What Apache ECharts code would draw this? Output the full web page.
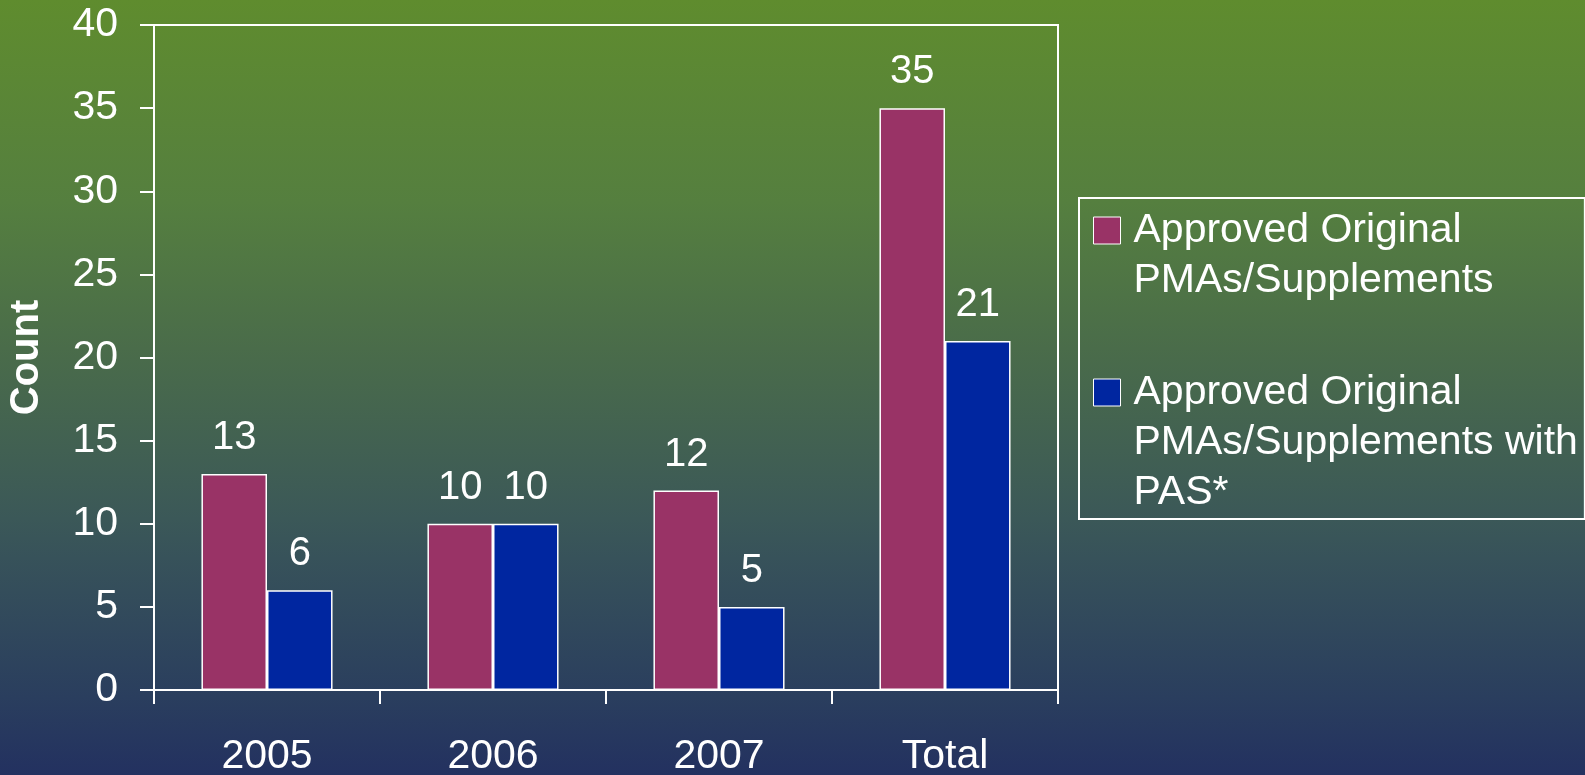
<!DOCTYPE html>
<html>
<head>
    <meta charset="utf-8" />
    <title></title>
    <script src="https://cdn.jsdelivr.net/npm/echarts@6/dist/echarts.min.js"></script>
    <style>
        * { margin: 0; padding: 0; box-sizing: border-box; }
        html, body { width: 1585px; height: 775px; overflow: hidden; }
        #chart { width: 1585px; height: 775px; }
    </style>
</head>
<body>
    <div id="chart"></div>

    <script>
        // data
        const categories = ['2005', '2006', '2007', 'Total'];
        const approved = [13, 10, 12, 35];
        const approvedWithPas = [6, 10, 5, 21];
        const seriesNames = ['Approved Original PMAs/Supplements', 'Approved Original PMAs/Supplements with PAS*'];
        const legendLines = {
            'Approved Original PMAs/Supplements': 'Approved Original\nPMAs/Supplements\n\u00a0',
            'Approved Original PMAs/Supplements with PAS*': 'Approved Original\nPMAs/Supplements with\nPAS*'
        };

        const chart = echarts.init(document.getElementById('chart'));
        const font = "'Liberation Sans', Arial, sans-serif";

        // square marker sitting at the first legend line
        const legendIcon = 'path://M0,0M35,150M0,11.5L27,11.5L27,38.5L0,38.5Z';

        const labelStyle = {
            show: true,
            position: 'top',
            distance: 16,
            color: '#fff',
            fontSize: 40,
            fontFamily: font
        };

        const option = {
            backgroundColor: {
                type: 'linear', x: 0, y: 0, x2: 0, y2: 1,
                colorStops: [
                    { offset: 0, color: '#5f8c2e' },
                    { offset: 0.26, color: '#557f3f' },
                    { offset: 0.45, color: '#4a6c4a' },
                    { offset: 0.67, color: '#3b5858' },
                    { offset: 0.72, color: '#37525a' },
                    { offset: 0.9, color: '#2a3e5e' },
                    { offset: 1, color: '#233160' }
                ]
            },
            animation: false,
            grid: {
                left: 154,
                top: 25,
                right: 527,
                bottom: 85,
                outerBoundsMode: 'none',
                containLabel: false,
                show: true,
                borderColor: '#fff',
                borderWidth: 2,
                backgroundColor: 'transparent'
            },
            legend: {
                data: seriesNames,
                orient: 'vertical',
                left: 1079,
                top: 198,
                selectedMode: false,
                icon: legendIcon,
                itemWidth: 35,
                itemHeight: 150,
                itemGap: 11,
                padding: [7, 7, 1, 14],
                borderColor: '#fff',
                borderWidth: 2,
                itemStyle: { borderColor: '#fff', borderWidth: 1 },
                formatter: function (name) { return legendLines[name]; },
                textStyle: {
                    color: '#fff',
                    fontSize: 41,
                    lineHeight: 50,
                    fontFamily: font
                }
            },
            xAxis: {
                type: 'category',
                data: categories,
                axisLine: { lineStyle: { color: '#fff', width: 2 } },
                axisTick: { show: true, length: 14, lineStyle: { color: '#fff', width: 2 } },
                axisLabel: { color: '#fff', fontSize: 41, fontFamily: font, margin: 46 }
            },
            yAxis: {
                type: 'value',
                min: 0,
                max: 40,
                interval: 5,
                name: 'Count',
                nameLocation: 'middle',
                nameGap: 107,
                nameTextStyle: { color: '#fff', fontSize: 40, fontWeight: 'bold', fontFamily: font },
                axisLine: { show: true, lineStyle: { color: '#fff', width: 2 } },
                axisTick: { show: true, length: 14, lineStyle: { color: '#fff', width: 2 } },
                axisLabel: { color: '#fff', fontSize: 41, fontFamily: font, margin: 36 },
                splitLine: { show: false }
            },
            series: [
                {
                    name: seriesNames[0],
                    type: 'bar',
                    data: approved,
                    barGap: '0%',
                    barCategoryGap: '42%',
                    itemStyle: { color: '#993366', borderColor: '#fff', borderWidth: 1.5 },
                    label: labelStyle
                },
                {
                    name: seriesNames[1],
                    type: 'bar',
                    data: approvedWithPas,
                    itemStyle: { color: '#0026a0', borderColor: '#fff', borderWidth: 1.5 },
                    label: labelStyle
                }
            ]
        };

        chart.setOption(option);
    </script>
</body>
</html>
